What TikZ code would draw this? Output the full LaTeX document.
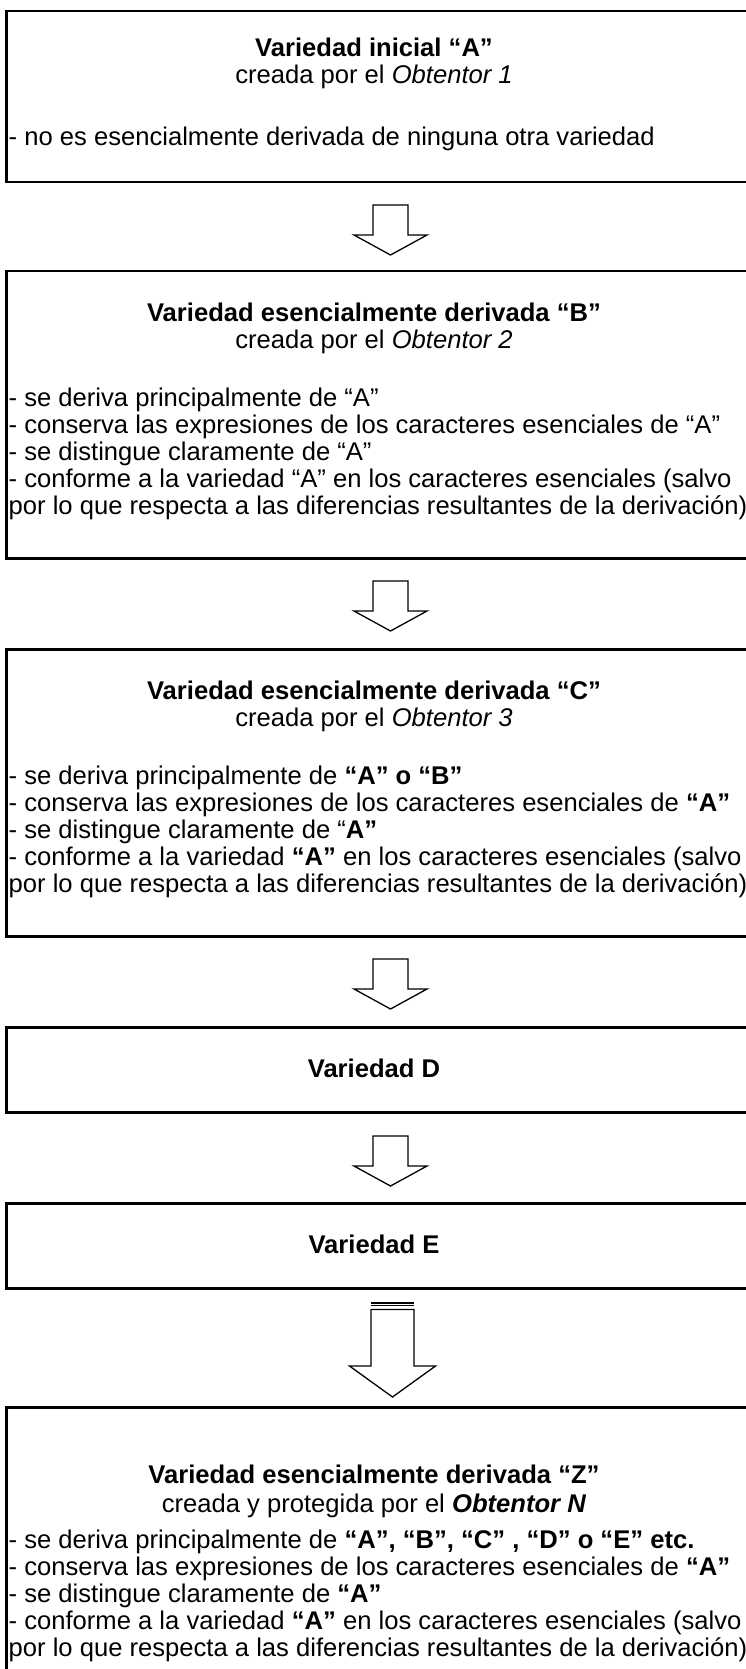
\documentclass[tikz,border=0pt]{standalone}
\usepackage{fontspec}
\setmainfont{Liberation Sans}
\newcommand\fsz{\fontsize{25.6}{27}\selectfont}
\tikzset{
  box/.style={draw, line width=2.5pt, inner sep=0pt, anchor=north west, minimum width=760pt},
  ttl/.style={anchor=base, inner sep=0pt, font=\fsz\bfseries},
  sub/.style={anchor=base, inner sep=0pt, font=\fsz},
  itm/.style={anchor=base west, inner sep=0pt, font=\fsz},
  arrowline/.style={line width=1.3pt, fill=white, line join=miter},
  smallarrow/.pic={
    \draw[arrowline] (-17.5,0) -- (17.5,0) -- (17.5,30) -- (36.5,30) -- (0,50)
      -- (-36.5,30) -- (-17.5,30) -- cycle;
  },
  bigarrow/.pic={
    \draw[line width=1.3pt] (-21.5,0) -- (21.5,0);
    \draw[line width=1.3pt] (-21.5,2.5) -- (21.5,2.5);
    \draw[arrowline] (-21.5,6.5) -- (21.5,6.5) -- (21.5,63) -- (43,63) -- (0,94)
      -- (-43,63) -- (-21.5,63) -- cycle;
  }
}
\begin{document}
\begin{tikzpicture}[x=1pt,y=-1pt]
\useasboundingbox[fill=white] (0,0) rectangle (745,1669);

% Box 1
\node[box, minimum height=171pt] (b1) at (5,10) {};
\node[ttl] (b1t) at (374,57) {Variedad inicial “A”};
\node[sub] (b1s) at (374,84) {creada por el \textit{Obtentor 1}};
\node[itm] (b1a) at (8.5,146) {- no es esencialmente derivada de ninguna otra variedad};

\pic at (390.5,205) {smallarrow};

% Box 2
\node[box, minimum height=287pt] (b2) at (5,270) {};
\node[ttl] (b2t) at (374,321) {Variedad esencialmente derivada “B”};
\node[sub] (b2s) at (374,348) {creada por el \textit{Obtentor 2}};
\node[itm] (b2a) at (8.5,406) {- se deriva principalmente de “A”};
\node[itm] (b2b) at (8.5,433) {- conserva las expresiones de los caracteres esenciales de “A”};
\node[itm] (b2c) at (8.5,460) {- se distingue claramente de “A”};
\node[itm] (b2d) at (8.5,487) {- conforme a la variedad “A” en los caracteres esenciales (salvo};
\node[itm] (b2e) at (8.5,514) {por lo que respecta a las diferencias resultantes de la derivación)};

\pic at (390.5,581) {smallarrow};

% Box 3
\node[box, minimum height=287pt] (b3) at (5,648) {};
\node[ttl] (b3t) at (374,699) {Variedad esencialmente derivada “C”};
\node[sub] (b3s) at (374,726) {creada por el \textit{Obtentor 3}};
\node[itm] (b3a) at (8.5,784) {- se deriva principalmente de \textbf{“A” o “B”}};
\node[itm] (b3b) at (8.5,811) {- conserva las expresiones de los caracteres esenciales de \textbf{“A”}};
\node[itm] (b3c) at (8.5,838) {- se distingue claramente de “\textbf{A”}};
\node[itm] (b3d) at (8.5,865) {- conforme a la variedad \textbf{“A”} en los caracteres esenciales (salvo};
\node[itm] (b3e) at (8.5,892) {por lo que respecta a las diferencias resultantes de la derivación)};

\pic at (390.5,959) {smallarrow};

% Box D
\node[box, minimum height=85pt] (bD) at (5,1026) {};
\node[ttl] (bDt) at (374,1077) {Variedad D};

\pic at (390.5,1136) {smallarrow};

% Box E
\node[box, minimum height=85pt] (bE) at (5,1202) {};
\node[ttl] (bEt) at (374,1253) {Variedad E};

\pic at (392.5,1303) {bigarrow};

% Box Z
\node[box, minimum height=300pt] (bZ) at (5,1406) {};
\node[ttl] (bZt) at (374,1483) {Variedad esencialmente derivada “Z”};
\node[sub] (bZs) at (374,1512) {creada y protegida por el \textbf{\textit{Obtentor N}}};
\node[itm] (bZa) at (8.5,1548) {- se deriva principalmente de \textbf{“A”, “B”, “C” , “D” o “E” etc.}};
\node[itm] (bZb) at (8.5,1575) {- conserva las expresiones de los caracteres esenciales de \textbf{“A”}};
\node[itm] (bZc) at (8.5,1602) {- se distingue claramente de \textbf{“A”}};
\node[itm] (bZd) at (8.5,1629) {- conforme a la variedad \textbf{“A”} en los caracteres esenciales (salvo};
\node[itm] (bZe) at (8.5,1656) {por lo que respecta a las diferencias resultantes de la derivación)};
\end{tikzpicture}
\end{document}
